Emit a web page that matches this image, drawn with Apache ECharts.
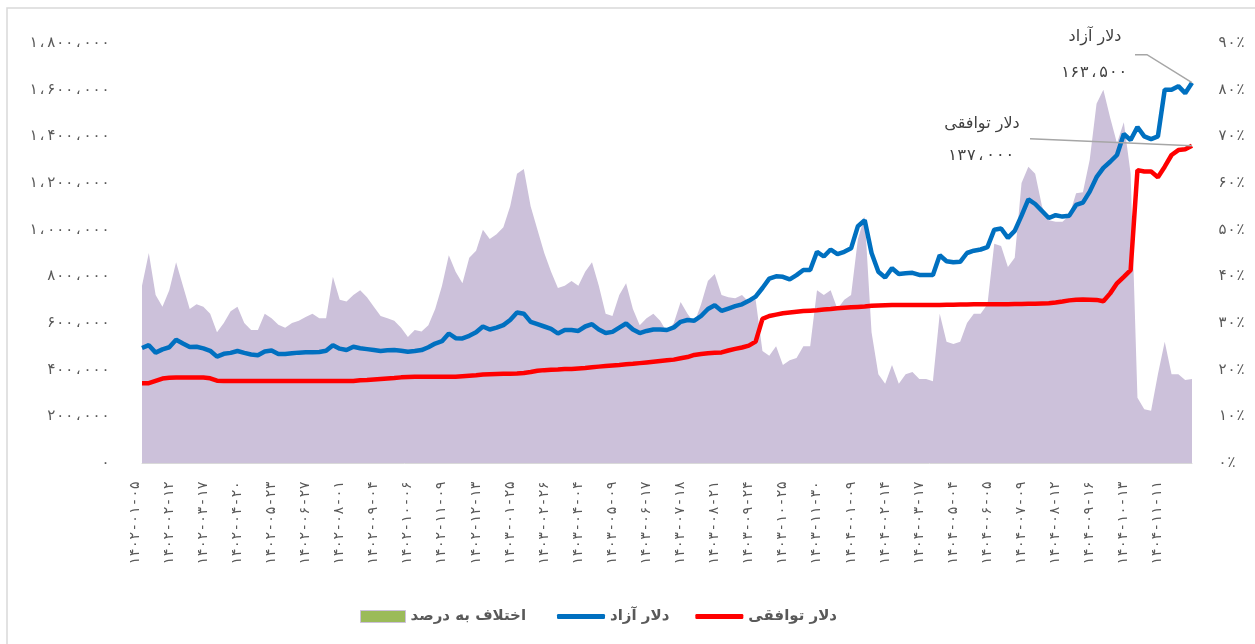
<!DOCTYPE html>
<html><head><meta charset="utf-8">
<script src="https://cdn.jsdelivr.net/npm/echarts@6/dist/echarts.min.js"></script>
<style>html,body{margin:0;padding:0;background:#fff}#c{width:1255px;height:644px}</style>
</head><body><div id="c"></div>
<script>
const tickLabels = ['۱۴۰۲-۰۱-۰۵','۱۴۰۲-۰۲-۱۲','۱۴۰۲-۰۳-۱۷','۱۴۰۲-۰۴-۲۰','۱۴۰۲-۰۵-۲۳','۱۴۰۲-۰۶-۲۷','۱۴۰۲-۰۸-۰۱','۱۴۰۲-۰۹-۰۴','۱۴۰۲-۱۰-۰۶','۱۴۰۲-۱۱-۰۹','۱۴۰۲-۱۲-۱۳','۱۴۰۳-۰۱-۲۵','۱۴۰۳-۰۲-۲۶','۱۴۰۳-۰۴-۰۴','۱۴۰۳-۰۵-۰۹','۱۴۰۳-۰۶-۱۷','۱۴۰۳-۰۷-۱۸','۱۴۰۳-۰۸-۲۱','۱۴۰۳-۰۹-۲۴','۱۴۰۳-۱۰-۲۵','۱۴۰۳-۱۱-۳۰','۱۴۰۴-۰۱-۰۹','۱۴۰۴-۰۲-۱۴','۱۴۰۴-۰۳-۱۷','۱۴۰۴-۰۵-۰۴','۱۴۰۴-۰۶-۰۵','۱۴۰۴-۰۷-۰۹','۱۴۰۴-۰۸-۱۲','۱۴۰۴-۰۹-۱۶','۱۴۰۴-۱۰-۱۳','۱۴۰۴-۱۱-۱۱'];
const pointsPerTick = 5;

const freeDollar = [493000,505000,473000,487000,496000,528000,512000,497000,498000,491000,
481000,456000,468000,472000,480000,472000,465000,462000,478000,482000,
467000,467000,470000,473000,475000,475000,476000,481000,505000,490000,
484000,498000,492000,488000,484000,480000,483000,484000,481000,477000,
480000,484000,496000,512000,522000,555000,535000,534000,545000,560000,
585000,572000,580000,591000,613000,645000,640000,605000,595000,585000,
575000,555000,570000,570000,566000,585000,595000,572000,557000,562000,
580000,598000,572000,557000,566000,572000,572000,570000,581000,605000,
613000,610000,630000,660000,676000,652000,662000,672000,680000,695000,
713000,750000,790000,800000,798000,787000,805000,827000,827000,905000,
885000,915000,895000,905000,920000,1015000,1040000,900000,820000,795000,
835000,810000,813000,815000,806000,806000,806000,890000,865000,860000,
862000,900000,910000,915000,925000,1000000,1005000,965000,995000,1060000,
1130000,1110000,1080000,1050000,1062000,1056000,1060000,1106000,1116000,1163000,
1225000,1265000,1291000,1320000,1410000,1384000,1440000,1400000,1388000,1400000,
1600000,1600000,1615000,1585000,1630000];

const agreedDollar = [342000,342000,352000,362000,365000,366000,366000,366000,366000,366000,
363000,353000,351000,351000,351000,351000,351000,351000,351000,351000,
351000,351000,351000,351000,351000,351000,351000,351000,351000,351000,
351000,351000,355000,356000,358000,360000,362000,364000,367000,369000,
370000,370000,370000,370000,370000,370000,370000,372000,374000,376000,
379000,380000,381000,382000,383000,384000,386000,390000,395000,398000,
400000,401000,403000,403000,405000,407000,410000,413000,416000,418000,
420000,423000,425000,428000,431000,434000,437000,440000,443000,449000,
454000,463000,467000,470000,472000,474000,482000,489000,495000,503000,
520000,618000,630000,636000,642000,645000,648000,651000,653000,655000,
658000,660000,663000,665000,667000,669000,671000,674000,675000,676000,
677000,677000,677000,677000,677000,677000,677000,677000,678000,678000,
679000,679000,680000,680000,680000,680000,680000,680000,681000,681000,
682000,683000,684000,685000,688000,692000,697000,700000,701000,700000,
699000,693000,727000,770000,798000,827000,1255000,1249000,1249000,1225000,
1270000,1320000,1341000,1345000,1360000];

const gapPercent = [38,45,36,33.5,37,43,38,33,34,33.5,
32,28,30,32.5,33.5,30,28.5,28.5,32,31,
29.6,29,30,30.5,31.3,32,31,31,39.9,35,
34.6,36,37,35.5,33.5,31.5,31,30.5,29,27,
28.5,28.2,29.5,33,38,44.5,41,38.5,44,45.5,
50,48,49,50.5,55,62,63,55,50,45,
41,37.5,38,39,38,41,43,38,32,31.5,
36,38.5,33,29.5,31,32,30.5,28,30,34.5,
32,30,34,39,40.5,36,35.5,35.3,36,34.5,
35,24,23,25,21,22,22.5,25,25,37,
36,37,33,35,36,48,52.8,28,19,17,
21,17,19,19.5,18,18,17.5,32,26,25.5,
26,30,32,32,34,47,46.5,42,44,60,
63.5,62,55,52,51.7,51.7,53,57.8,58,65,
77,80,74,68.5,73,62,14,11.5,11.2,19,
26,19,19,17.8,18];

const seriesNames = ['اختلاف به درصد','دلار آزاد','دلار توافقی'];
const noteNames = ['دلار آزاد','دلار توافقی'];
const noteValues = ['۱۶۳،۵۰۰','۱۳۷،۰۰۰'];
const leftTicks = {min:0,max:1800000,interval:200000};
const rightTicks = {min:0,max:90,interval:10};

const FD = '۰۱۲۳۴۵۶۷۸۹';
function fa(n){return String(n).replace(/\B(?=(\d{3})+(?!\d))/g,'،').replace(/\d/g,d=>FD[d]);}

const categories = freeDollar.map((v,i)=> (i%pointsPerTick===0 && tickLabels[i/pointsPerTick]) ? tickLabels[i/pointsPerTick] : '');

const FONT = '"DejaVu Sans", sans-serif';
const NUMFONT = '"DejaVu Sans Mono", "DejaVu Sans", monospace';
const legendText = {fontFamily:FONT,fontSize:15,fontWeight:'bold',color:'#595959'};
const chart = echarts.init(document.getElementById('c'));
chart.setOption({
  animation:false,
  backgroundColor:'#fff',
  grid:{left:142,right:63,top:43,bottom:181},
  legend:[{
    left:355, top:604, itemWidth:45, itemHeight:12, itemGap:26,
    textStyle:legendText,
    data:[{name:seriesNames[0],icon:'rect',itemStyle:{color:'#9bbb59',borderColor:'#ccc1da',borderWidth:1}}]
  },{
    left:552, top:604, itemWidth:48, itemHeight:5, itemGap:26,
    textStyle:legendText,
    data:[{name:seriesNames[1],icon:'roundRect'},{name:seriesNames[2],icon:'roundRect'}]
  }],
  xAxis:{
    type:'category', data:categories, boundaryGap:false,
    axisLine:{lineStyle:{color:'#d9d9d9',width:1}},
    axisTick:{show:false},
    axisLabel:{interval:0, rotate:90, verticalAlign:'bottom', margin:18, fontFamily:NUMFONT, fontSize:14, color:'#595959'}
  },
  yAxis:[
    {type:'value', min:leftTicks.min, max:leftTicks.max, interval:leftTicks.interval,
     splitLine:{show:false}, axisLine:{show:false}, axisTick:{show:false},
     axisLabel:{margin:32, fontFamily:NUMFONT, fontSize:15, color:'#595959', formatter:v=>fa(v)}},
    {type:'value', min:rightTicks.min, max:rightTicks.max, interval:rightTicks.interval,
     splitLine:{show:false}, axisLine:{show:false}, axisTick:{show:false},
     axisLabel:{margin:26, fontFamily:NUMFONT, fontSize:15, color:'#595959', formatter:v=>fa(v)+'٪'}}
  ],
  series:[
    {name:seriesNames[0], type:'line', yAxisIndex:1, data:gapPercent, showSymbol:false, symbol:'none',
     lineStyle:{width:0}, areaStyle:{color:'#ccc1da',opacity:1}, itemStyle:{color:'#ccc1da'}, z:1},
    {name:seriesNames[1], type:'line', yAxisIndex:0, data:freeDollar, showSymbol:false, symbol:'none',
     lineStyle:{width:4.5,color:'#0070c0'}, itemStyle:{color:'#0070c0'}, z:4},
    {name:seriesNames[2], type:'line', yAxisIndex:0, data:agreedDollar, showSymbol:false, symbol:'none',
     lineStyle:{width:4.5,color:'#ff0000'}, itemStyle:{color:'#ff0000'}, z:3}
  ]
});

const last = freeDollar.length-1;
const pB = chart.convertToPixel({xAxisIndex:0,yAxisIndex:0},[last,freeDollar[last]]);
const pR = chart.convertToPixel({xAxisIndex:0,yAxisIndex:0},[last,agreedDollar[last]]);
const noteStyle = {fontFamily:FONT,fontSize:16,fill:'#404040',align:'center',verticalAlign:'middle'};
const numNoteStyle = {fontFamily:NUMFONT,fontSize:16,fill:'#404040',align:'center',verticalAlign:'middle'};
chart.setOption({graphic:[
  {type:'rect',shape:{x:7,y:8,width:1270,height:660},style:{fill:'none',stroke:'#d9d9d9',lineWidth:1.5},silent:true,z:0},
  {type:'polyline',shape:{points:[[pB[0]-57,pB[1]-28],[pB[0]-45,pB[1]-28],[pB[0],pB[1]]]},style:{fill:'none',stroke:'#a6a6a6',lineWidth:1.5},z:10},
  {type:'line',shape:{x1:pR[0]-162,y1:pR[1]-7,x2:pR[0],y2:pR[1]},style:{stroke:'#a6a6a6',lineWidth:1.5},z:10},
  {type:'text',x:pB[0]-97,y:pB[1]-46,style:Object.assign({text:noteNames[0]},noteStyle),z:10},
  {type:'text',x:pB[0]-98,y:pB[1]-10,style:Object.assign({text:noteValues[0]},numNoteStyle),z:10},
  {type:'text',x:pR[0]-210,y:pR[1]-22,style:Object.assign({text:noteNames[1]},noteStyle),z:10},
  {type:'text',x:pR[0]-211,y:pR[1]+10,style:Object.assign({text:noteValues[1]},numNoteStyle),z:10}
]});
</script></body></html>
